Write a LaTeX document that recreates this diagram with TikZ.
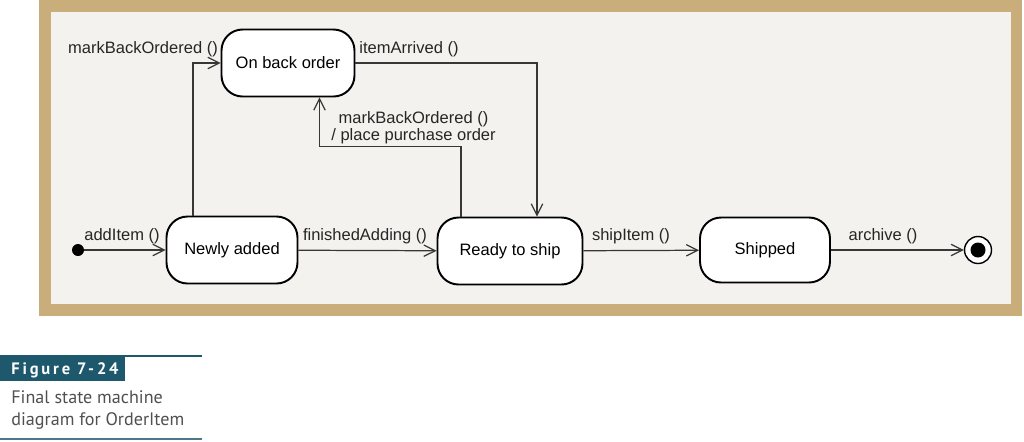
\documentclass[tikz,border=0pt]{standalone}
\usepackage{fontspec}
\setmainfont{Liberation Sans}
\newfontfamily\capfont{PT Sans}
\usetikzlibrary{positioning,arrows.meta}
\definecolor{frametan}{RGB}{201,174,123}
\definecolor{paper}{RGB}{244,242,238}
\definecolor{capteal}{RGB}{30,88,108}
\definecolor{capgray}{RGB}{80,80,80}
\definecolor{wire}{RGB}{55,55,55}
\tikzset{
    state/.style={
      draw=black,
      line width=1.1pt,
      fill=white,
      rounded corners=0.42cm,
      minimum height=1.34cm,
      font=\fontsize{9.4}{11}\selectfont
    },
    lbl/.style={font=\fontsize{9.4}{9.6}\selectfont, inner sep=0pt, align=center, text=black!85},
    trans/.style={draw=wire, line width=.7pt, -{Straight Barb[length=6.5pt,width=6.5pt]}},
}

\begin{document}
\begin{tikzpicture}[x=0.02cm, y=-0.02cm]
  \useasboundingbox (0,0) rectangle (1024,441);
  % frame
  \fill[frametan] (39,0) rectangle (1022,316);
  \fill[paper] (51,12) rectangle (1011,304);

  \node[circle, fill=black, inner sep=0pt, minimum size=0.24cm] (init) at (78,250) {};
  \node[state, minimum width=2.62cm] (newly) at (232,250) {Newly added};
  \node[state, minimum width=2.66cm] (backorder) at (288,63) {On back order};
  \node[state, minimum width=2.9cm] (ready) at (510,251) {Ready to ship};
  \node[state, minimum width=2.6cm, minimum height=1.3cm] (shipped) at (765,250) {Shipped};
  \node[circle, draw=black, line width=.8pt, fill=white, inner sep=0pt, minimum size=0.54cm] (final) at (978,250) {};
  \node[circle, fill=black, inner sep=0pt, minimum size=0.3cm] (finaldot) at (final) {};

  \draw[trans] (init) -- (newly);
  \draw[trans] (newly) -- (ready);
  \draw[trans] (ready) -- (shipped);
  \draw[trans] (shipped) -- (final);
  \draw[trans] ([xshift=-0.78cm]newly.north) |- (backorder.west);
  \draw[trans] (backorder.east) -| ([xshift=0.54cm]ready.north);
  \draw[trans] ([xshift=-0.98cm]ready.north) -- ++(0,-70) -| ([xshift=0.63cm]backorder.south);

  \node[lbl, anchor=base] (l-add) at (122,240) {addItem ()};
  \node[lbl, anchor=base] (l-finish) at (365,240) {finishedAdding ()};
  \node[lbl, anchor=base] (l-ship) at (631,240) {shipItem ()};
  \node[lbl, anchor=base] (l-archive) at (883,240) {archive ()};
  \node[lbl, anchor=base] (l-mark) at (143,53) {markBackOrdered ()};
  \node[lbl, anchor=base] (l-arrived) at (409,53) {itemArrived ()};
  \node[lbl, anchor=base west] (l-purchase) at (331,140) {markBackOrdered ()\\/ place purchase order};

  % caption
  \fill[capteal] (0,355) rectangle (202,356.5);
  \fill[capteal] (0,357) rectangle (125,381);
  \node[anchor=base west, inner sep=0pt, text=white, font=\capfont\bfseries\fontsize{9.4}{10}\selectfont\addfontfeatures{LetterSpace=17}] (figno) at (11,374) {Figure 7-24};
  \node[anchor=base west, inner sep=0pt, align=left, text=capgray, font=\capfont\fontsize{10.3}{12}\selectfont] (figcap) at (11,425) {Final state machine\\diagram for OrderItem};
  \fill[capteal!80] (0,438) rectangle (202,439.5);
\end{tikzpicture}
\end{document}
